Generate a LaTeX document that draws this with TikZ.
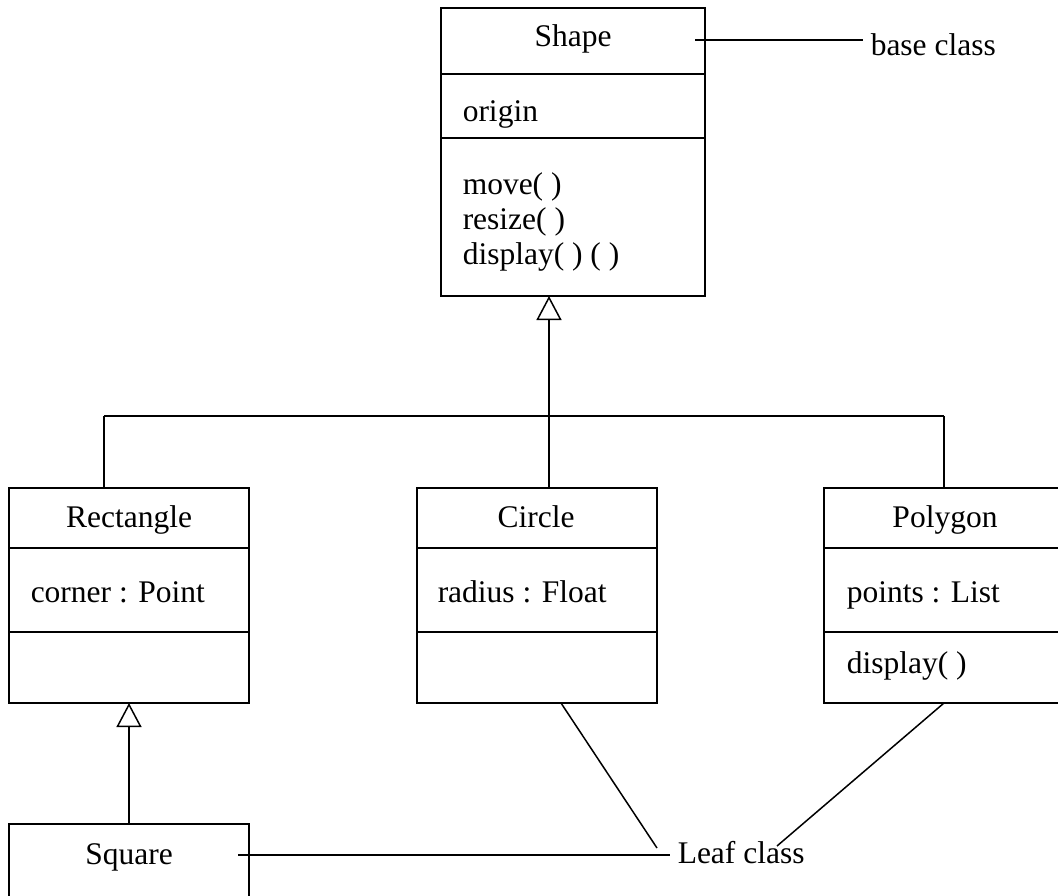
\documentclass[tikz,border=0pt]{standalone}
\usepackage{fontspec}
\setmainfont{Liberation Serif}
\usetikzlibrary{arrows.meta}
\begin{document}
\begin{tikzpicture}[x=1pt, y=-1pt, line width=1.5pt,
  part/.style={draw, line width=1.5pt, inner sep=0pt, outer sep=0pt, anchor=north west},
  ttl/.style={anchor=base, inner sep=0pt},
  lbl/.style={anchor=base west, inner sep=0pt},
  inherit/.style={-{Triangle[open, length=24pt, width=25pt, line width=1.5pt]}},
  every node/.append style={font=\fontsize{31.5}{36}\selectfont}]
\useasboundingbox (0,0) rectangle (1058,895);
\clip (0,0) rectangle (1058,895);

% Shape
\node[part, minimum width=264pt, minimum height=66pt]  (shapeA) at (441,8)   {};
\node[part, minimum width=264pt, minimum height=64pt]  (shapeB) at (441,74)  {};
\node[part, minimum width=264pt, minimum height=158pt] (shapeC) at (441,138) {};
\node[ttl] (shapeT) at (573,46) {Shape};
\node[lbl] (shapeO) at (462,121) {origin};
\node[lbl] (shapeM1) at (462,194) {move( )};
\node[lbl] (shapeM2) at (462,229) {resize( )};
\node[lbl] (shapeM3) at (462,264) {display( ) ( )};

% Rectangle
\node[part, minimum width=240pt, minimum height=60pt] (rectA) at (9,488) {};
\node[part, minimum width=240pt, minimum height=84pt] (rectB) at (9,548) {};
\node[part, minimum width=240pt, minimum height=71pt] (rectC) at (9,632) {};
\node[ttl] (rectT) at (129,527) {Rectangle};
\node[lbl] (rectO) at (30,602) {corner : Point};

% Circle
\node[part, minimum width=240pt, minimum height=60pt] (circA) at (417,488) {};
\node[part, minimum width=240pt, minimum height=84pt] (circB) at (417,548) {};
\node[part, minimum width=240pt, minimum height=71pt] (circC) at (417,632) {};
\node[ttl] (circT) at (536,527) {Circle};
\node[lbl] (circO) at (437,602) {radius : Float};

% Polygon
\node[part, minimum width=242pt, minimum height=60pt] (polyA) at (824,488) {};
\node[part, minimum width=242pt, minimum height=84pt] (polyB) at (824,548) {};
\node[part, minimum width=242pt, minimum height=71pt] (polyC) at (824,632) {};
\node[ttl] (polyT) at (945,527) {Polygon};
\node[lbl] (polyO) at (846,602) {points : List};
\node[lbl] (polyM) at (846,673) {display( )};

% Square
\node[part, minimum width=240pt, minimum height=100pt] (sqA) at (9,824) {};
\node[ttl] (sqT) at (129,864) {Square};

% Notes
\node[lbl] (baseN) at (870,55) {base class};
\node[lbl] (leafN) at (677,863) {Leaf class};

% Generalisation tree
\coordinate (hub)   at (549,416);
\coordinate (hubL)  at (104,416);
\coordinate (hubR)  at (944,416);
\draw[inherit] (hub) -- (shapeC.south -| hub);
\draw (hubL) -- (hubR);
\draw (hubL) -- (rectA.north -| hubL);
\draw (hub)  -- (circA.north -| hub);
\draw (hubR) -- (polyA.north -| hubR);
\draw[inherit] (sqA.north) -- (rectC.south);

% Note connectors
\coordinate (baseS) at (695,40);
\coordinate (baseE) at (863,40);
\draw (baseS) -- (baseE);
\coordinate (circL) at (561,703);
\coordinate (leafA) at (657,848);
\draw (circL) -- (leafA);
\coordinate (polyL) at (944,703);
\coordinate (leafB) at (777,846);
\draw (polyL) -- (leafB);
\coordinate (sqS) at (238,855);
\coordinate (leafC) at (670,855);
\draw (sqS) -- (leafC);
\end{tikzpicture}
\end{document}
